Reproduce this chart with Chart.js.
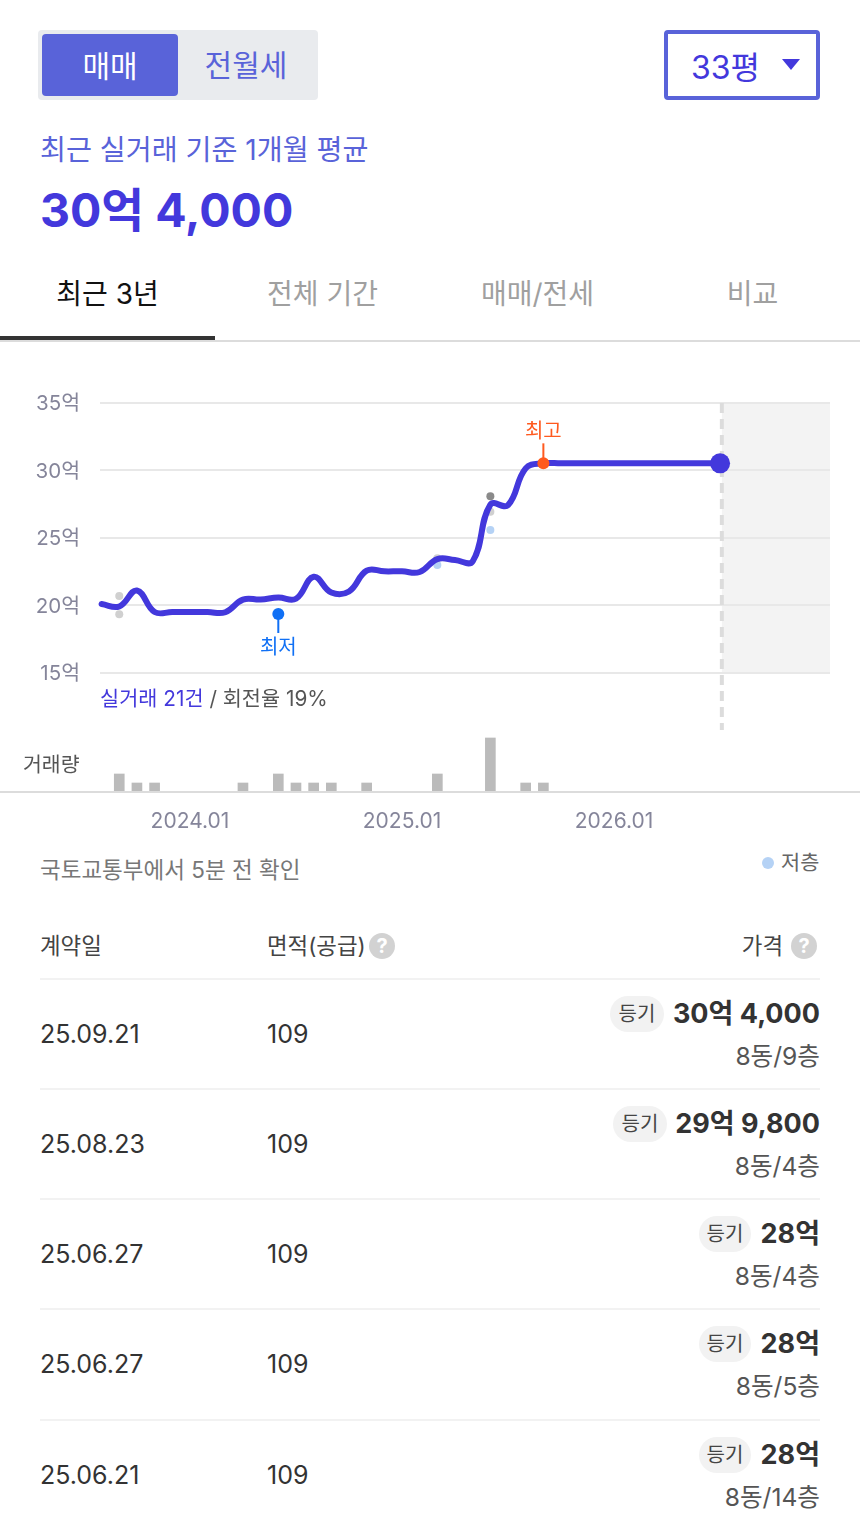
<!DOCTYPE html>
<html lang="ko"><head><meta charset="utf-8">
<script src="https://cdn.jsdelivr.net/npm/chart.js@4"></script>
<style>
*{box-sizing:border-box}
html,body{margin:0;padding:0;background:#fff}
body{width:860px;height:1530px;position:relative;overflow:hidden;font-family:Inter,"Noto Sans CJK KR",sans-serif;color:#333}
.a{position:absolute;white-space:nowrap;line-height:1}
#wrap{position:absolute;left:0;top:380px;width:860px;height:470px}
.sep{position:absolute;left:40px;width:780px;height:2px;background:#f2f2f2}
.q{position:absolute;width:26px;height:26px;border-radius:50%;background:#d2d2d2;color:#fff;font:700 20px/26px Inter,sans-serif;text-align:center}
.pill{position:absolute;height:36px;border-radius:18px;background:#f2f2f2;font-size:20px;line-height:36px;text-align:center;color:#444}
</style></head><body>
<div class="a" style="left:38px;top:30px;width:280px;height:70px;background:#e9ebee;border-radius:4px"></div>
<div class="a" style="left:42px;top:34px;width:136px;height:62px;background:#5963d9;border-radius:4px"></div>
<div class="a" style="left:42px;top:51px;width:136px;text-align:center;font-size:30px;color:#fff">매매</div>
<div class="a" style="left:178px;top:50px;width:136px;text-align:center;font-size:30px;color:#5963d9">전월세</div>
<div class="a" style="left:664px;top:30px;width:156px;height:70px;border:4px solid #5963d9;border-radius:4px"></div>
<div class="a" style="left:691px;top:52px;font-size:32px;color:#4338dc">33평</div>
<div class="a" style="left:782px;top:59px;width:0;height:0;border-left:9.5px solid transparent;border-right:9.5px solid transparent;border-top:11px solid #4338dc"></div>
<div class="a" style="left:40px;top:136px;font-size:28.2px;color:#5963d9">최근 실거래 기준 1개월 평균</div>
<div class="a" style="left:40px;top:187px;font-size:46.5px;font-weight:700;color:#4338dc">30억 4,000</div>
<div class="a" style="left:0;top:280px;width:215px;text-align:center;font-size:28px;color:#111">최근 3년</div>
<div class="a" style="left:215px;top:280px;width:215px;text-align:center;font-size:28px;color:#a0a0a0">전체 기간</div>
<div class="a" style="left:430px;top:280px;width:215px;text-align:center;font-size:28px;color:#a0a0a0">매매/전세</div>
<div class="a" style="left:645px;top:280px;width:215px;text-align:center;font-size:28px;color:#a0a0a0">비교</div>
<div class="a" style="left:0;top:340px;width:860px;height:2px;background:#dcdcdc"></div>
<div class="a" style="left:0;top:336px;width:215px;height:4px;background:#333"></div>
<div id="wrap"><canvas id="c" width="860" height="470"></canvas></div>
<div class="a" style="left:100px;top:689px;font-size:20.8px;color:#4338dc">실거래 21건 <span style="color:#555">/ 회전율 19%</span></div>
<div class="a" style="left:23px;top:755px;font-size:20.5px;color:#555">거래량</div>
<div class="a" style="left:40px;top:859px;font-size:22.5px;color:#777">국토교통부에서 5분 전 확인</div>
<div class="a" style="left:762px;top:857px;width:12px;height:12px;border-radius:50%;background:#b5d2f5"></div>
<div class="a" style="left:781px;top:853px;font-size:20.8px;color:#666">저층</div>
<div class="a" style="left:40px;top:935px;font-size:22.4px;color:#444">계약일</div>
<div class="a" style="left:267px;top:935px;font-size:22.4px;color:#444">면적(공급)</div>
<div class="q" style="left:369px;top:933px">?</div>
<div class="a" style="right:77px;top:935px;font-size:22.4px;color:#444">가격</div>
<div class="q" style="left:791px;top:933px">?</div>
<div class="sep" style="top:978px"></div>
<div id="rows"></div>
<script>
// monthly axis: month 0 = 2024.01
const lineMonths = [-5,-4,-3,-2,-1,0,1,2,3,4,5,6,7,8,9,10,11,12,13,14,15,16,17,18,19,20,21,22,23,24,25,26,27,28,29,30];
const lineValues = [20.11,19.93,21.11,19.52,19.52,19.52,19.52,19.5,20.44,20.44,20.59,20.5,22.13,20.96,21.04,22.58,22.53,22.53,22.48,23.44,23.37,23.27,27.47,27.44,30.16,30.53,30.53,30.53,30.53,30.53,30.53,30.53,30.53,30.53,30.53,30.53];
const volMonths = [-4,-3,-2,3,5,6,7,8,10,14,17,19,20];
const volCounts = [2,1,1,1,2,1,1,1,1,2,6,1,1];
const lightDots = [[-4,20.7],[-4,19.35],[14,23.5],[17,26.95]];
const lowFloorDots = [[14,23],[17,25.6]];
const darkDots = [[17,28.1]];
const lowPoint = [5,19.37];
const highPoint = [20,30.53];
const endPoint = [30,30.53];
const todayMonth = 30.1;
const yTicks = [15,20,25,30,35];
const xTickMonths = [0,12,24];
const xTickLabels = ['2024.01','2025.01','2026.01'];
const dates = ['25.09.21','25.08.23','25.06.27','25.06.27','25.06.21'];
const areas = ['109','109','109','109','109'];
const prices = ['30억 4,000','29억 9,800','28억','28억','28억'];
const floors = ['8동/9층','8동/4층','8동/4층','8동/5층','8동/14층'];
const rowTops = [979,1089,1199,1309,1420];

const FONT='Inter,"Noto Sans CJK KR",sans-serif';
const pts=a=>a.map(p=>({x:p[0],y:p[1]}));

const rowsEl=document.getElementById('rows');let h='';
const pillLeft=[610,613,699,699,699],pillW=[54,54,52,52,52];
dates.forEach((d,i)=>{const t=rowTops[i];
h+=`<div class="a" style="left:40px;top:${t+43}px;font-size:25px;color:#333">${d}</div>`;
h+=`<div class="a" style="left:267px;top:${t+43}px;font-size:25px;color:#333">${areas[i]}</div>`;
h+=`<div class="pill" style="left:${pillLeft[i]}px;top:${t+17}px;width:${pillW[i]}px">등기</div>`;
h+=`<div class="a" style="right:40px;top:${t+21}px;font-size:27px;font-weight:700;color:#333">${prices[i]}</div>`;
h+=`<div class="a" style="right:40px;top:${t+65}px;font-size:24.6px;color:#555">${floors[i]}</div>`;
if(i<4)h+=`<div class="sep" style="top:${rowTops[i+1]-1}px"></div>`;});
rowsEl.innerHTML=h;

const decor={id:'decor',
 beforeDraw(ch){const {ctx,scales:{x,y},chartArea:a}=ch;ctx.save();ctx.fillStyle='#f3f3f3';
  const l=x.getPixelForValue(todayMonth),t=y.getPixelForValue(35),b=y.getPixelForValue(15);
  ctx.fillRect(l,t,a.right-l,b-t);ctx.restore();},
 afterDraw(ch){const {ctx,scales:{x,y}}=ch;ctx.save();
  ctx.font='20px '+FONT;ctx.textAlign='center';ctx.textBaseline='middle';
  const lx=x.getPixelForValue(lowPoint[0]),ly=y.getPixelForValue(lowPoint[1]);
  ctx.strokeStyle=ctx.fillStyle='#1070f5';ctx.lineWidth=2;ctx.beginPath();ctx.moveTo(lx,ly);ctx.lineTo(lx,ly+19);ctx.stroke();
  ctx.fillText('최저',lx,ly+34);
  const hx=x.getPixelForValue(highPoint[0]),hy=y.getPixelForValue(highPoint[1]);
  ctx.strokeStyle=ctx.fillStyle='#ff5a1f';ctx.beginPath();ctx.moveTo(hx,hy);ctx.lineTo(hx,hy-20);ctx.stroke();
  ctx.fillText('최고',hx,hy-31);
  ctx.restore();}
};
const dots=(data,color,r,order)=>({type:'scatter',data:pts(data),yAxisID:'y',backgroundColor:color,borderWidth:0,pointRadius:r,pointHoverRadius:r,order,clip:false});

new Chart(document.getElementById('c'),{
 type:'line',
 data:{datasets:[
  {type:'line',data:lineMonths.map((m,i)=>({x:m,y:lineValues[i]})),yAxisID:'y',borderColor:'#4338dc',borderWidth:6,pointRadius:0,tension:0.42,borderCapStyle:'round',borderJoinStyle:'round',order:2,clip:false},
  dots(lightDots,'#d0d0d0',4,3),
  dots(lowFloorDots,'#b5d2f5',4,3),
  dots(darkDots,'#8a8a8a',4,3),
  dots([lowPoint],'#1070f5',6,1),
  dots([highPoint],'#ff5a1f',6,1),
  dots([endPoint],'#4338dc',10,1),
  {type:'line',data:[{x:todayMonth,y:35},{x:todayMonth,y:10.78}],yAxisID:'y',borderColor:'#dcdcdc',borderWidth:4,borderDash:[10,6],pointRadius:0,order:4,clip:false},
  {type:'bar',data:volMonths.map((m,i)=>({x:m,y:volCounts[i]})),yAxisID:'v',backgroundColor:'#bbbbbb',barThickness:10,order:5}
 ]},
 plugins:[decor],
 options:{responsive:false,animation:false,events:[],
  layout:{padding:{left:0,right:30,top:23,bottom:0}},
  plugins:{legend:{display:false},tooltip:{enabled:false}},
  scales:{
   x:{type:'linear',min:-5.09,max:36.22,offset:false,grid:{display:false},border:{display:true,color:'#dcdcdc',width:0},
      afterBuildTicks(s){s.ticks=xTickMonths.map(v=>({value:v}));},
      afterFit(s){s.height=58;},
      ticks:{autoSkip:false,maxRotation:0,padding:9,color:'#85859a',font:{family:FONT,size:21},callback:(v)=>xTickLabels[xTickMonths.indexOf(v)]}},
   y:{type:'linear',position:'left',min:6.185,max:35,
      afterBuildTicks(s){s.ticks=yTicks.map(v=>({value:v}));},
      afterFit(s){s.width=100;},
      grid:{color:'#e8e8e8',lineWidth:2,drawTicks:true,tickLength:20,tickColor:'rgba(0,0,0,0)'},border:{display:false},
      ticks:{padding:0,labelOffset:1,color:'#85859a',font:{family:FONT,size:20.5},callback:v=>v+'억'}},
   v:{type:'linear',display:false,min:0,max:43.2}
  }
 }
});
</script>
<div class="a" style="left:0;top:791px;width:860px;height:2px;background:#dcdcdc"></div>
</body></html>
